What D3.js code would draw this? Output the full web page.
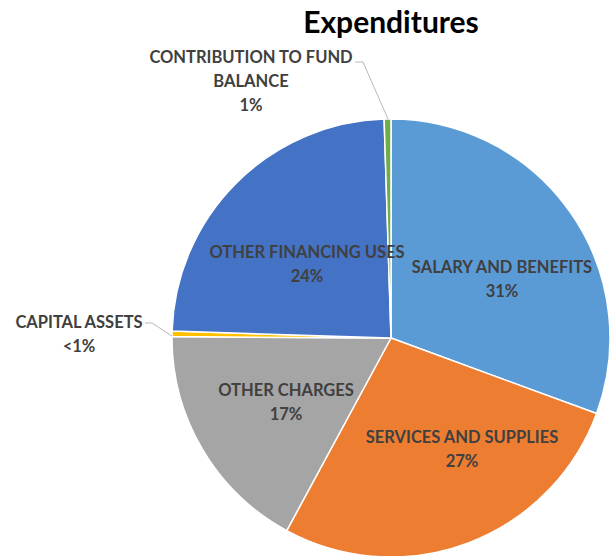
<!DOCTYPE html>
<html><head><meta charset="utf-8">
<script src="https://cdn.jsdelivr.net/npm/d3@7"></script>
<style>html,body{margin:0;padding:0;background:#fff;}</style>
</head><body>
<svg id="chart" width="613" height="556"></svg>
<script>
const categories = ["SALARY AND BENEFITS","SERVICES AND SUPPLIES","OTHER CHARGES","CAPITAL ASSETS","OTHER FINANCING USES","CONTRIBUTION TO FUND BALANCE"];
const values = [30.6, 27.3, 17.2, 0.4, 24.0, 0.5];
const pctLabels = ["31%","27%","17%","<1%","24%","1%"];
const colors = ["#5B9BD5","#ED7D31","#A5A5A5","#FFC000","#4472C4","#70AD47"];

const W = 613, H = 556, cx = 391, cy = 338, R = 219;
const font = "Lato, 'Open Sans', sans-serif";
const svg = d3.select("#chart");

svg.append("text").attr("x", 391).attr("y", 33).attr("text-anchor","middle")
  .attr("font-family", font).attr("font-weight", 700).attr("font-size", 30).attr("fill","#000")
  .text("Expenditures");

const pie = d3.pie().sort(null).value(d => d.v);
const data = pie(categories.map((c,i) => ({c, v: values[i], p: pctLabels[i], col: colors[i]})));
const arc = d3.arc().innerRadius(0).outerRadius(R);
const g = svg.append("g").attr("transform", `translate(${cx},${cy})`);
g.selectAll("path").data(data).join("path")
  .attr("d", arc).attr("fill", d => d.data.col)
  .attr("stroke", "#fff").attr("stroke-width", 1.5).attr("stroke-linejoin","round");

// label layout: centre of first line relative to pie centre
const labelLayout = [
  {lines:["SALARY AND BENEFITS"], pos:[111,-71]},
  {lines:["SERVICES AND SUPPLIES"], pos:[71,99]},
  {lines:["OTHER CHARGES"], pos:[-105,52]},
  {lines:["CAPITAL ASSETS"], pos:[-312,-16], leader:[[-246,-15],[-239,-15],[-219,-2]]},
  {lines:["OTHER FINANCING USES"], pos:[-84,-86]},
  {lines:["CONTRIBUTION TO FUND","BALANCE"], pos:[-140,-281], leader:[[-36,-276],[-28,-276],[-3,-219]]}
];
const lh = 24;
data.forEach((d,i) => {
  const L = labelLayout[i];
  const lines = L.lines.concat([d.data.p]);
  const t = g.append("text").attr("text-anchor","middle")
    .attr("font-family", font).attr("font-weight", 700).attr("font-size", 16.5).attr("fill","#404040");
  lines.forEach((s,k) => {
    t.append("tspan").attr("x", L.pos[0]).attr("y", L.pos[1] + k*lh).attr("dy","0.35em").text(s);
  });
  if (L.leader) {
    g.append("polyline").attr("points", L.leader.map(p=>p.join(",")).join(" "))
      .attr("fill","none").attr("stroke","#A6A6A6").attr("stroke-width",0.8);
  }
});
</script>
</body></html>
